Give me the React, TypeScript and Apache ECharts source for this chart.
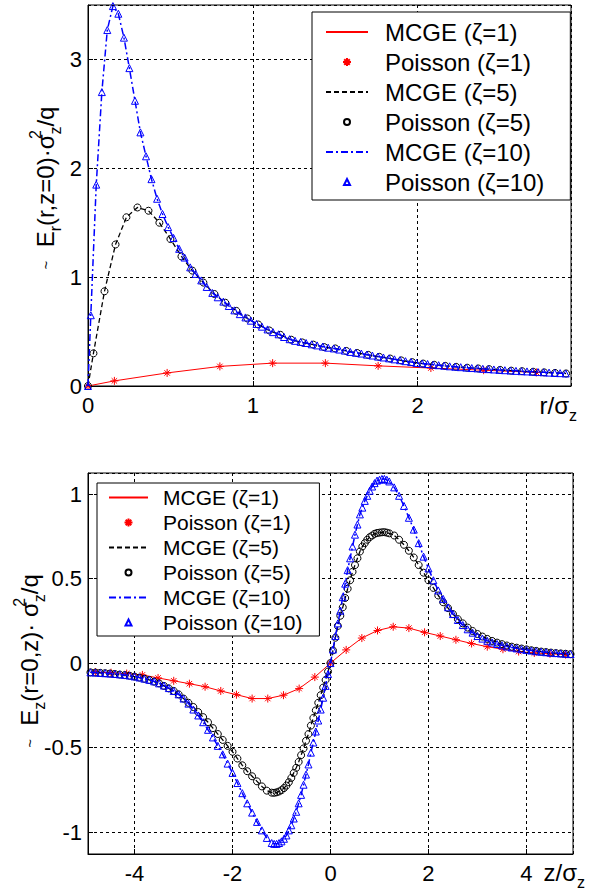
import React, { useEffect, useRef } from 'react';
import * as echarts from 'echarts';

const FONT = '"Liberation Sans", Arial, Helvetica, sans-serif';

// ---------- Top panel: E_r(r, z=0) ----------
const rZeta1 = [0, 0.16, 0.48, 0.8, 1.12, 1.44, 1.76, 2.08, 2.4, 2.72];
const erZeta1 = [0, 0.047, 0.12, 0.18, 0.21, 0.21, 0.185, 0.165, 0.145, 0.125];

const rZeta5 = [0, 0.033, 0.1, 0.167, 0.233, 0.3, 0.367, 0.433, 0.5, 0.567, 0.633, 0.7, 0.767, 0.833, 0.9, 0.967, 1.033, 1.1, 1.167, 1.233, 1.3, 1.367, 1.433, 1.5, 1.567, 1.633, 1.7, 1.767, 1.833, 1.9, 1.967, 2.033, 2.1, 2.167, 2.233, 2.3, 2.367, 2.433, 2.5, 2.567, 2.633, 2.7, 2.767, 2.833, 2.9];
const erZeta5 = [0, 0.3, 0.87, 1.3, 1.55, 1.64, 1.61, 1.5, 1.35, 1.19, 1.06, 0.95, 0.845, 0.765, 0.69, 0.62, 0.565, 0.51, 0.47, 0.425, 0.4, 0.38, 0.357, 0.345, 0.322, 0.303, 0.286, 0.268, 0.252, 0.235, 0.219, 0.206, 0.195, 0.185, 0.176, 0.168, 0.161, 0.155, 0.148, 0.141, 0.136, 0.131, 0.125, 0.12, 0.115];

const rZeta10 = [0, 0.017, 0.05, 0.084, 0.117, 0.151, 0.184, 0.218, 0.251, 0.285, 0.318, 0.352, 0.385, 0.419, 0.452, 0.486, 0.519, 0.553, 0.586, 0.62, 0.653, 0.687, 0.72, 0.754, 0.787, 0.821, 0.854, 0.888, 0.921, 0.955, 0.988, 1.022, 1.055, 1.089, 1.122, 1.156, 1.189, 1.223, 1.256, 1.29, 1.323, 1.357, 1.39, 1.424, 1.457, 1.491, 1.524, 1.558, 1.591, 1.625, 1.658, 1.692, 1.725, 1.759, 1.792, 1.826, 1.859, 1.893, 1.926, 1.96, 1.993, 2.027, 2.06, 2.094, 2.127, 2.161, 2.194, 2.228, 2.261, 2.295, 2.328, 2.362, 2.395, 2.429, 2.462, 2.496, 2.529, 2.563, 2.596, 2.63, 2.663, 2.697, 2.73, 2.764, 2.797, 2.831, 2.864, 2.898];
const erZeta10 = [0, 0.65, 1.85, 2.7, 3.27, 3.49, 3.42, 3.2, 2.92, 2.62, 2.33, 2.11, 1.9, 1.72, 1.58, 1.46, 1.36, 1.26, 1.18, 1.09, 1.03, 0.97, 0.91, 0.855, 0.815, 0.775, 0.735, 0.695, 0.66, 0.63, 0.6, 0.57, 0.545, 0.52, 0.495, 0.475, 0.45, 0.43, 0.415, 0.405, 0.395, 0.383, 0.373, 0.362, 0.352, 0.345, 0.335, 0.325, 0.313, 0.305, 0.298, 0.288, 0.28, 0.27, 0.262, 0.254, 0.245, 0.237, 0.228, 0.22, 0.212, 0.207, 0.202, 0.196, 0.191, 0.186, 0.181, 0.177, 0.173, 0.169, 0.165, 0.162, 0.158, 0.155, 0.152, 0.148, 0.145, 0.142, 0.139, 0.136, 0.134, 0.131, 0.128, 0.126, 0.123, 0.12, 0.118, 0.115];

// ---------- Bottom panel: E_z(r=0, z) ----------
const zZeta1 = [-4.8, -4.48, -4.16, -3.84, -3.52, -3.2, -2.88, -2.56, -2.24, -1.92, -1.6, -1.28, -0.96, -0.64, -0.32, 0, 0.32, 0.64, 0.96, 1.28, 1.6, 1.92, 2.24, 2.56, 2.88, 3.2, 3.52, 3.84, 4.16, 4.48, 4.8];
const ezZeta1 = [-0.053, -0.057, -0.062, -0.07, -0.088, -0.105, -0.122, -0.14, -0.165, -0.187, -0.21, -0.21, -0.19, -0.151, -0.083, 0, 0.078, 0.148, 0.193, 0.215, 0.207, 0.182, 0.16, 0.138, 0.116, 0.097, 0.082, 0.068, 0.06, 0.055, 0.05];

const zGrid = [
  -4.9, -4.8, -4.7, -4.6, -4.5, -4.4, -4.3, -4.2, -4.1, -4.0, -3.9, -3.8, -3.7, -3.6, -3.5, -3.4, -3.3, -3.2, -3.1, -3.0,
  -2.9, -2.8, -2.7, -2.6, -2.5, -2.4, -2.3, -2.2, -2.1, -2.0, -1.9, -1.8, -1.7, -1.6, -1.5, -1.4, -1.3,
  -1.2, -1.15, -1.1, -1.05, -1.0, -0.95, -0.9, -0.85, -0.8, -0.75, -0.7, -0.65, -0.6, -0.55, -0.5, -0.45, -0.4, -0.35,
  -0.3, -0.25, -0.2, -0.15, -0.1, -0.05, 0, 0.05, 0.1, 0.15, 0.2, 0.25, 0.3, 0.35, 0.4, 0.45, 0.5, 0.55, 0.6, 0.65,
  0.7, 0.75, 0.8, 0.85, 0.9, 0.95, 1.0, 1.05, 1.1, 1.15, 1.2,
  1.3, 1.4, 1.5, 1.6, 1.7, 1.8, 1.9, 2.0, 2.1, 2.2, 2.3, 2.4, 2.5, 2.6, 2.7, 2.8, 2.9, 3.0, 3.1, 3.2, 3.3, 3.4, 3.5,
  3.6, 3.7, 3.8, 3.9, 4.0, 4.1, 4.2, 4.3, 4.4, 4.5, 4.6, 4.7, 4.8, 4.9,
];
const ezZeta5 = [
  -0.055, -0.056, -0.058, -0.06, -0.062, -0.065, -0.068, -0.071, -0.075, -0.08, -0.086, -0.093, -0.1, -0.11, -0.12, -0.135, -0.15, -0.165, -0.185, -0.21,
  -0.235, -0.26, -0.29, -0.32, -0.35, -0.385, -0.42, -0.455, -0.49, -0.525, -0.565, -0.605, -0.64, -0.67, -0.7, -0.73, -0.755,
  -0.767, -0.768, -0.765, -0.76, -0.752, -0.74, -0.725, -0.705, -0.68, -0.65, -0.62, -0.585, -0.545, -0.505, -0.46, -0.42, -0.37, -0.325,
  -0.28, -0.235, -0.19, -0.145, -0.1, -0.05, 0, 0.075, 0.15, 0.22, 0.28, 0.33, 0.385, 0.44, 0.49, 0.54, 0.58, 0.62, 0.66, 0.69,
  0.71, 0.73, 0.745, 0.755, 0.765, 0.77, 0.772, 0.774, 0.775, 0.772, 0.768,
  0.755, 0.73, 0.7, 0.665, 0.625, 0.58, 0.535, 0.49, 0.445, 0.4, 0.36, 0.325, 0.29, 0.26, 0.235, 0.21, 0.19, 0.172, 0.157, 0.143, 0.131, 0.121, 0.112,
  0.104, 0.097, 0.091, 0.086, 0.081, 0.076, 0.072, 0.068, 0.065, 0.062, 0.059, 0.057, 0.055, 0.053,
];
const ezZeta10 = [
  -0.055, -0.056, -0.058, -0.06, -0.062, -0.064, -0.067, -0.07, -0.074, -0.079, -0.085, -0.092, -0.099, -0.108, -0.12, -0.133, -0.148, -0.165, -0.185, -0.21,
  -0.24, -0.275, -0.31, -0.35, -0.395, -0.44, -0.49, -0.54, -0.595, -0.65, -0.71, -0.77, -0.83, -0.885, -0.94, -0.99, -1.035,
  -1.065, -1.07, -1.07, -1.065, -1.055, -1.04, -1.02, -0.99, -0.96, -0.92, -0.88, -0.83, -0.78, -0.72, -0.66, -0.6, -0.53, -0.47,
  -0.405, -0.34, -0.275, -0.205, -0.135, -0.065, 0, 0.08, 0.16, 0.235, 0.31, 0.39, 0.47, 0.55, 0.62, 0.69, 0.76, 0.82, 0.88, 0.92,
  0.96, 0.99, 1.02, 1.045, 1.065, 1.08, 1.085, 1.09, 1.09, 1.085, 1.075,
  1.04, 0.99, 0.93, 0.86, 0.79, 0.71, 0.63, 0.56, 0.49, 0.43, 0.38, 0.33, 0.29, 0.255, 0.225, 0.2, 0.18, 0.16, 0.145, 0.132, 0.122, 0.113, 0.105,
  0.098, 0.092, 0.087, 0.082, 0.078, 0.074, 0.07, 0.067, 0.064, 0.061, 0.059, 0.057, 0.055, 0.053,
];

const seriesNames = ['MCGE (\u03b6=1)', 'Poisson (\u03b6=1)', 'MCGE (\u03b6=5)', 'Poisson (\u03b6=5)', 'MCGE (\u03b6=10)', 'Poisson (\u03b6=10)'];

const STAR = 'path://M5,0L5,10M0,5L10,5M1.6,1.6L8.4,8.4M1.6,8.4L8.4,1.6';

// legend marker icons (bounding box = itemWidth x itemHeight so markers keep their own size)
function legendIcons(w: number) {
  const c = w / 2;
  return {
    star: `path://M0,0M${w},8M${c},0L${c},8M${c - 4},4L${c + 4},4M${c - 2.8},1.2L${c + 2.8},6.8M${c - 2.8},6.8L${c + 2.8},1.2`,
    circle: `path://M0,0M${w},8M${c + 3},4A3,3,0,1,1,${c - 3},4A3,3,0,1,1,${c + 3},4Z`,
    triangle: `path://M0,0M${w},8M${c},1L${c + 3},7L${c - 3},7Z`,
  };
}

function legendData(w: number) {
  const ic = legendIcons(w);
  return [
    { name: seriesNames[0] },
    { name: seriesNames[1], icon: ic.star },
    { name: seriesNames[2] },
    { name: seriesNames[3], icon: ic.circle },
    { name: seriesNames[4] },
    { name: seriesNames[5], icon: ic.triangle },
  ];
}

const pairs = (xs: number[], ys: number[]) => xs.map((x, i) => [x, ys[i]]);

function buildSeries(axis: number, sets: { x: number[]; y: number[] }[]) {
  const [s1, s5, s10] = sets;
  return [
    {
      name: seriesNames[0], type: 'line', xAxisIndex: axis, yAxisIndex: axis, data: pairs(s1.x, s1.y),
      symbol: 'none', lineStyle: { color: '#ff0000', width: 1, type: 'solid' }, itemStyle: { color: '#ff0000', opacity: 0 }, z: 2,
    },
    {
      name: seriesNames[1], type: 'scatter', xAxisIndex: axis, yAxisIndex: axis, data: pairs(s1.x, s1.y),
      symbol: STAR, symbolSize: 8,
      itemStyle: { color: 'rgba(0,0,0,0)', borderColor: '#ff0000', borderWidth: 1, opacity: 1 }, z: 3,
    },
    {
      name: seriesNames[2], type: 'line', xAxisIndex: axis, yAxisIndex: axis, data: pairs(s5.x, s5.y),
      symbol: 'none', lineStyle: { color: '#000000', width: 1.3, type: [5, 3] }, itemStyle: { color: '#000000', opacity: 0 }, z: 4,
    },
    {
      name: seriesNames[3], type: 'scatter', xAxisIndex: axis, yAxisIndex: axis, data: pairs(s5.x, s5.y),
      symbol: 'circle', symbolSize: 7,
      itemStyle: { color: 'rgba(0,0,0,0)', borderColor: '#000000', borderWidth: 1, opacity: 1 }, z: 5,
    },
    {
      name: seriesNames[4], type: 'line', xAxisIndex: axis, yAxisIndex: axis, data: pairs(s10.x, s10.y),
      symbol: 'none', lineStyle: { color: '#0000ff', width: 1.5, type: [7, 3, 2, 3] }, itemStyle: { color: '#0000ff', opacity: 0 }, z: 6,
    },
    {
      name: seriesNames[5], type: 'scatter', xAxisIndex: axis, yAxisIndex: axis, data: pairs(s10.x, s10.y),
      symbol: 'triangle', symbolSize: 7,
      itemStyle: { color: 'rgba(0,0,0,0)', borderColor: '#0000ff', borderWidth: 1, opacity: 1 }, z: 7,
    },
  ];
}

const axisCommon = {
  type: 'value',
  axisLine: { show: true, onZero: false, lineStyle: { color: '#000', width: 1 } },
  axisTick: { show: true, inside: true, length: 5, lineStyle: { color: '#000' } },
  splitLine: { show: true, lineStyle: { color: '#000', width: 1, type: [3, 3] } },
  axisLabel: { color: '#000', fontSize: 22, fontFamily: FONT, showMinLabel: false, showMaxLabel: false },
};

const rich = {
  m: { fontSize: 24, lineHeight: 36, verticalAlign: 'middle', fontFamily: FONT, color: '#000' },
  s: { fontSize: 16, lineHeight: 16, verticalAlign: 'bottom', fontFamily: FONT, color: '#000' },
  p: { fontSize: 16, lineHeight: 16, verticalAlign: 'top', fontFamily: FONT, color: '#000', width: 0.01 },
  t: { fontSize: 15, lineHeight: 36, verticalAlign: 'middle', fontFamily: FONT, color: '#000' },
};

export default function App() {
  const ref = useRef<HTMLDivElement>(null);
  useEffect(() => {
    if (!ref.current) return;
    const chart = echarts.init(ref.current, undefined, { renderer: 'svg' });
    const option = {
      animation: false,
      backgroundColor: '#ffffff',
      textStyle: { fontFamily: FONT },
      grid: [
        { left: 88, top: 5, width: 483, height: 381, show: true, borderColor: '#000', borderWidth: 1, backgroundColor: 'transparent' },
        { left: 88, top: 473, width: 485, height: 381, show: true, borderColor: '#000', borderWidth: 1, backgroundColor: 'transparent' },
      ],
      xAxis: [
        { ...axisCommon, gridIndex: 0, min: 0, max: 2.93, splitNumber: 3,
          axisLabel: { ...axisCommon.axisLabel, margin: 8, showMinLabel: true } },
        { ...axisCommon, gridIndex: 1, min: -4.95, max: 4.95, splitNumber: 5,
          axisLabel: { ...axisCommon.axisLabel, margin: 8 } },
      ],
      yAxis: [
        { ...axisCommon, gridIndex: 0, min: 0, max: 3.5, splitNumber: 4,
          axisLabel: { ...axisCommon.axisLabel, margin: 6, showMinLabel: true } },
        { ...axisCommon, gridIndex: 1, min: -1.13, max: 1.125, splitNumber: 4,
          axisLabel: { ...axisCommon.axisLabel, margin: 6 } },
      ],
      legend: [
        {
          data: legendData(42), orient: 'vertical', left: 312, top: 12,
          padding: [8, 26, 6, 13], itemWidth: 42, itemHeight: 8, itemGap: 6,
          backgroundColor: '#fff', borderColor: '#000', borderWidth: 1,
          textStyle: { fontSize: 24, lineHeight: 24, fontFamily: FONT, color: '#000', padding: [0, 0, 0, 12] },
          selectedMode: false,
        },
        {
          data: legendData(39), orient: 'vertical', left: 97, top: 483,
          padding: [4, 17, 3, 11], itemWidth: 39, itemHeight: 8, itemGap: 4,
          backgroundColor: '#fff', borderColor: '#000', borderWidth: 1,
          textStyle: { fontSize: 21, lineHeight: 21, fontFamily: FONT, color: '#000', padding: [0, 0, 0, 10] },
          selectedMode: false,
        },
      ],
      graphic: [
        { type: 'text', x: 45, y: 188, rotation: Math.PI / 2,
          style: { text: '{t|~}{m|  E}{s|r}{m|(r,z=0)\u00b7\u03c3}{p|2}{s|z}{m|/q}', rich, align: 'center', verticalAlign: 'middle', fill: '#000' } },
        { type: 'text', x: 29, y: 661, rotation: Math.PI / 2,
          style: { text: '{t|~}{m|  E}{s|z}{m|(r=0,z)\u00b7 \u03c3}{p|2}{s|z}{m|/q}', rich, align: 'center', verticalAlign: 'middle', fill: '#000' } },
        { type: 'text', x: 577, y: 405,
          style: { text: '{m|r/\u03c3}{s|z}', rich, align: 'right', verticalAlign: 'middle', fill: '#000' } },
        { type: 'text', x: 585, y: 872,
          style: { text: '{m|z/\u03c3}{s|z}', rich, align: 'right', verticalAlign: 'middle', fill: '#000' } },
      ],
      series: [
        ...buildSeries(0, [
          { x: rZeta1, y: erZeta1 },
          { x: rZeta5, y: erZeta5 },
          { x: rZeta10, y: erZeta10 },
        ]),
        ...buildSeries(1, [
          { x: zZeta1, y: ezZeta1 },
          { x: zGrid, y: ezZeta5 },
          { x: zGrid, y: ezZeta10 },
        ]),
      ],
    };
    chart.setOption(option as any);
    return () => chart.dispose();
  }, []);
  return (
    <div
      ref={ref}
      style={{ position: 'fixed', left: 0, top: 0, width: 589, height: 890, background: '#fff' }}
    />
  );
}
